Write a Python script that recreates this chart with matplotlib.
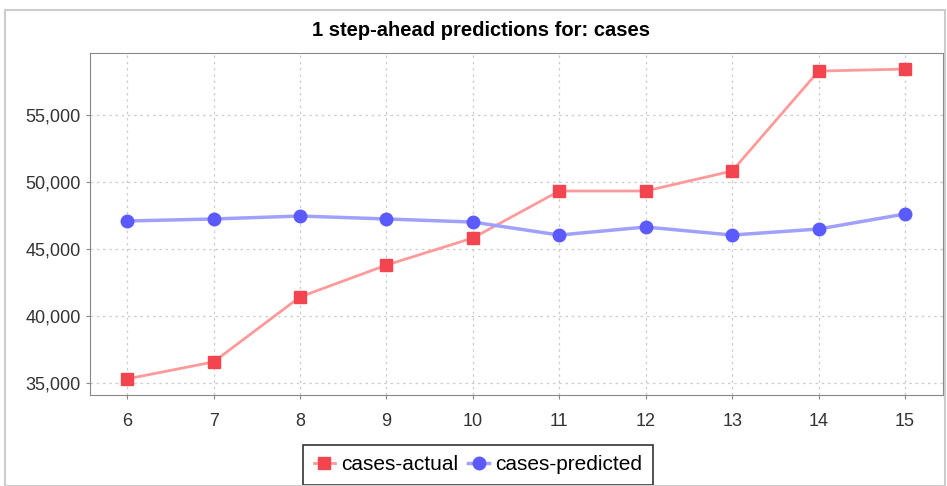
import matplotlib
matplotlib.use("Agg")
import matplotlib.pyplot as plt
from matplotlib.ticker import FuncFormatter
from matplotlib.patches import Rectangle

steps = [6, 7, 8, 9, 10, 11, 12, 13, 14, 15]
actual = [35300, 36570, 41420, 43800, 45820, 49330, 49330, 50820, 58280, 58430]
predicted = [47090, 47240, 47460, 47240, 47010, 46040, 46640, 46040, 46490, 47610]
y_ticks = [35000, 40000, 45000, 50000, 55000]

plt.rcParams['font.family'] = ['Liberation Sans Narrow', 'Liberation Sans', 'DejaVu Sans']

fig = plt.figure(figsize=(9.47, 4.86), dpi=100)
ax = fig.add_axes([90 / 947, 1 - 395 / 486, 853 / 947, 342 / 486])

ax.plot(steps, actual, color='#ff9a9a', lw=2, marker='s', ms=9,
        mfc='#f2454f', mec='#f2454f', label='cases-actual')
ax.plot(steps, predicted, color='#a0a0ff', lw=2.5, marker='o', ms=9,
        mfc='#5a5aff', mec='#5a5aff', label='cases-predicted')

ax.set_xlim(5.57, 15.44)
ax.set_ylim(34100, 59630)
ax.set_xticks(steps)
ax.set_yticks(y_ticks)
ax.yaxis.set_major_formatter(FuncFormatter(lambda v, p: f"{int(v):,}"))
ax.tick_params(labelsize=13, colors='#333333', length=3, color='#888888')
ax.tick_params(axis='x', pad=10)
ax.grid(True, color='#cccccc', ls=(0, (2, 3)), lw=0.9)
for s in ax.spines.values():
    s.set_color('#888888')

fig.text(0.508, 1 - 30 / 486, '1 step-ahead predictions for: cases',
         ha='center', va='center', fontsize=14.5, fontweight='bold')

leg = ax.legend(loc='upper center', bbox_to_anchor=(0.455, -0.115), ncol=2,
                fontsize=15, frameon=True, fancybox=False, handlelength=1.0,
                handletextpad=0.3, columnspacing=0.5, borderpad=0.5)
leg.get_frame().set_edgecolor('black')
leg.get_frame().set_linewidth(1.2)

fig.patches.append(Rectangle((5 / 947, 0), 940 / 947, 1 - 10 / 486,
                             transform=fig.transFigure, fill=False,
                             edgecolor='#cccccc', lw=1.5))

fig.savefig('out.png', dpi=100)
